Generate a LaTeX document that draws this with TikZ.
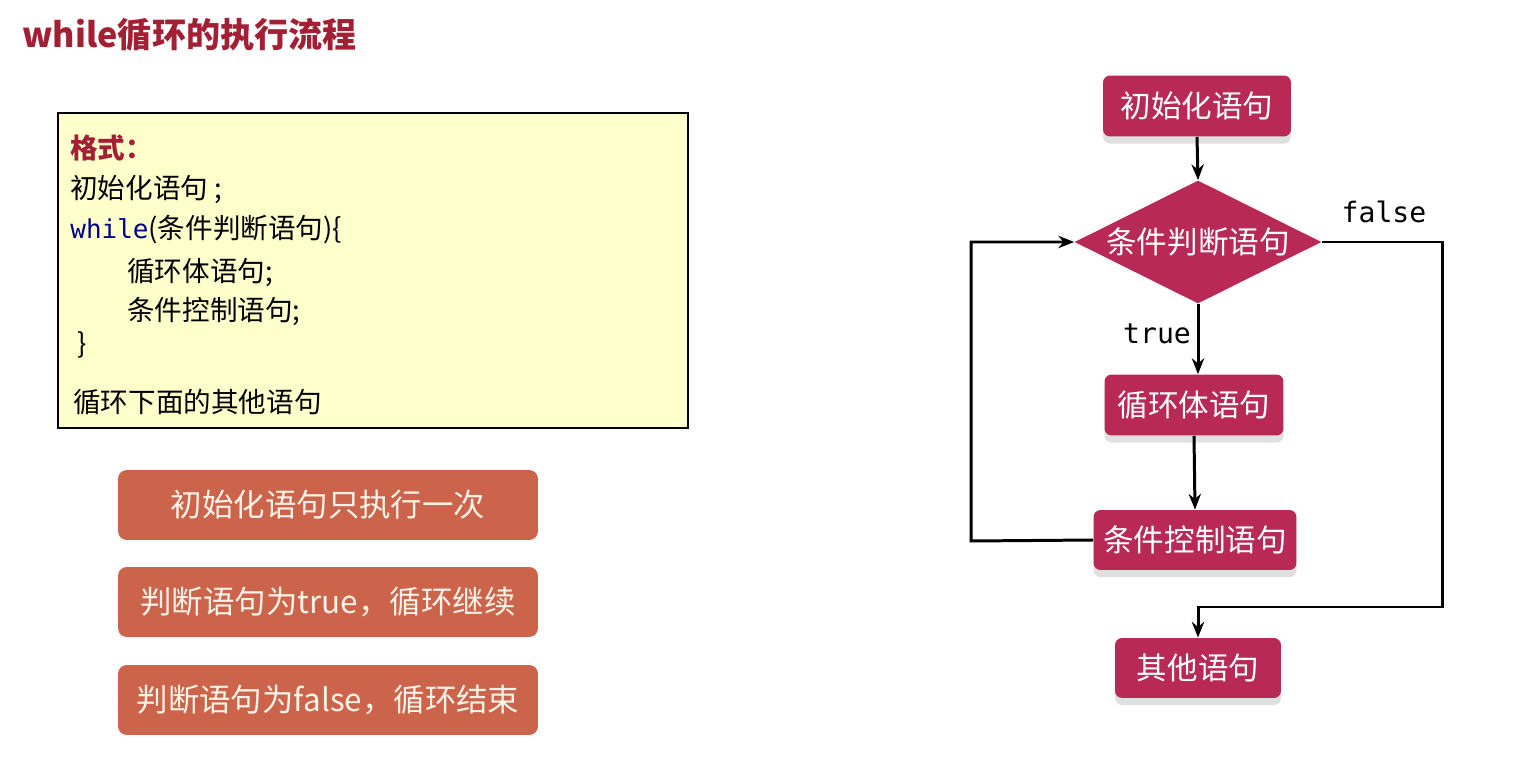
\documentclass[tikz,border=0pt]{standalone}
\usepackage{fontspec}
\usetikzlibrary{shapes.geometric}
\usetikzlibrary{arrows,arrows.meta}
\usetikzlibrary{shadows}
\newfontfamily\cjk{Noto Sans CJK SC}
\newfontfamily\mono{DejaVu Sans Mono}
\definecolor{titelrot}{RGB}{163,31,52}
\definecolor{himbeer}{RGB}{185,41,86}
\definecolor{ziegel}{RGB}{204,100,76}
\definecolor{notiz}{RGB}{255,255,204}
\definecolor{schluessel}{RGB}{0,0,140}
\definecolor{creme}{RGB}{255,242,230}
\newcommand{\codefont}{\cjk\fontsize{15.7}{19}\selectfont}
\newcommand{\hintfont}{\cjk\fontsize{17.9}{21}\selectfont}
\newcommand{\flowfont}{\cjk\fontsize{17.4}{20}\selectfont}
\newcommand{\labelfont}{\mono\fontsize{16}{19}\selectfont}

\begin{document}
\begin{tikzpicture}[x=0.02cm, y=-0.02cm,
    block/.style={fill=himbeer, text=white, rounded corners=4pt, font=\flowfont,
        drop shadow={shadow xshift=0pt, shadow yshift=-4pt, fill=black!12, opacity=1}},
    hinweis/.style={fill=ziegel, text=creme, rounded corners=5pt, minimum width=8.4cm, minimum height=1.4cm, font=\hintfont},
    codezeile/.style={anchor=west, inner sep=0pt, font=\codefont},
    pfeil/.style={line width=1.7pt, -{Stealth[length=9pt, width=7pt]}}]

    \useasboundingbox (0,0) rectangle (1522,760);

    % title
    \node[anchor=west, inner sep=0pt, text=titelrot, font=\cjk\bfseries\fontsize{19.4}{23}\selectfont] (titel) at (22,35) {while循环的执行流程};

    % format box
    \node[draw=black, line width=0.8pt, fill=notiz, minimum width=12.6cm, minimum height=6.3cm] (format) at (373,270.5) {};
    \node[codezeile, text=titelrot, font=\codefont\bfseries] (zeile0) at (70,148) {格式：};
    \node[codezeile] (zeile1) at (70,190) {初始化语句 ;};
    \node[codezeile] (zeile2) at (70,230) {{\mono\fontsize{14.8}{18}\selectfont\color{schluessel}while}(条件判断语句)\{};
    \node[codezeile] (zeile3) at (127,273) {循环体语句;};
    \node[codezeile] (zeile4) at (127,312) {条件控制语句;};
    \node[codezeile] (zeile5) at (77,345) {\}};
    \node[codezeile] (zeile6) at (73,402) {循环下面的其他语句};

    % notes
    \node[hinweis] (hinweis1) at (328,505) {初始化语句只执行一次};
    \node[hinweis] (hinweis2) at (328,602) {判断语句为true，循环继续};
    \node[hinweis] (hinweis3) at (328,700) {判断语句为false，循环结束};

    % flow chart
    \node[block, minimum width=3.76cm, minimum height=1.22cm] (init) at (1197,106) {初始化语句};
    \node[diamond, aspect=2, inner sep=0pt, fill=himbeer, text=white, font=\flowfont,
        minimum width=4.94cm, minimum height=2.46cm] (cond) at (1198,242) {条件判断语句};
    \node[block, minimum width=3.58cm, minimum height=1.22cm] (body) at (1194,405) {循环体语句};
    \node[block, minimum width=4.06cm, minimum height=1.2cm] (control) at (1195,540) {条件控制语句};
    \node[block, minimum width=3.32cm, minimum height=1.2cm] (other) at (1198,668) {其他语句};

    \coordinate (links) at (971,541);
    \coordinate (rechts) at (1442,607);

    \draw[pfeil] (init.south) -- (cond.north);
    \draw[pfeil] (cond.south) -- (cond.south |- body.north);
    \draw[pfeil] (body.south) -- (control.north);
    \draw[pfeil] (control.west) -- (links) |- (cond.west);
    \draw[pfeil] (cond.east) -| (rechts) -| (other.north);

    \node[font=\labelfont] (wahr) at (1157,334) {true};
    \node[font=\labelfont] (falsch) at (1384,212) {false};

\end{tikzpicture}
\end{document}
